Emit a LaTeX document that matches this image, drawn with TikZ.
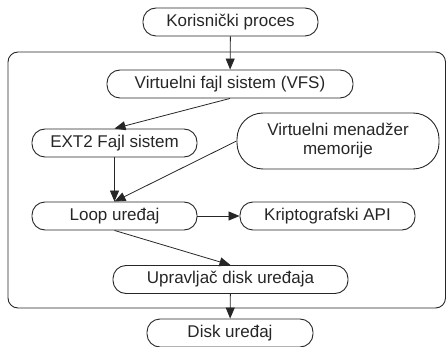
\documentclass[tikz,border=0pt]{standalone}
\usepackage{fontspec}
\setmainfont{Liberation Sans}
\usetikzlibrary{arrows.meta}
\definecolor{linija}{gray}{0.15}
\begin{document}
\begin{tikzpicture}[x=1pt,y=-1pt,
  blok/.style={draw=linija, line width=0.9pt, rounded corners=13pt, minimum height=28pt,
    inner sep=0pt, text=linija, font=\fontsize{17}{19}\selectfont},
  veza/.style={draw=linija, -{Triangle[length=11pt,width=9pt]}, line width=0.8pt}]
\useasboundingbox (0,0) rectangle (446,347);

% Kernel frame
\draw[linija, line width=0.9pt, rounded corners=10pt] (8,52) rectangle (445.5,308);

% Blocks
\node[blok, minimum width=175pt] (proces) at (230.5,22) {Korisnički proces};
\node[blok, minimum width=246pt] (vfs) at (230,84) {Virtuelni fajl sistem (VFS)};
\node[blok, minimum width=165pt] (ext) at (114.5,143) {EXT2 Fajl sistem};
\node[blok, minimum width=202pt, minimum height=56pt, rounded corners=26pt, align=center]
  (vmm) at (338,141) {Virtuelni menadžer\\memorije};
\node[blok, minimum width=165pt] (loop) at (114.5,216) {Loop uređaj};
\node[blok, minimum width=175pt] (kripto) at (327.5,216) {Kriptografski API};
\node[blok, minimum width=235pt] (upr) at (230.5,279.5) {Upravljač disk uređaja};
\node[blok, minimum width=166pt] (disk) at (230,333) {Disk uređaj};

% Connections
\draw[veza] (proces) -- (vfs);
\draw[veza] (vfs.south) -- (ext.north);
\draw[veza] (ext) -- (loop);
\draw[veza] (vmm.west) -- (loop.north);
\draw[veza] (loop) -- (kripto);
\draw[veza] (loop.south) -- (upr.north);
\draw[veza] (upr) -- (disk);

\end{tikzpicture}
\end{document}
